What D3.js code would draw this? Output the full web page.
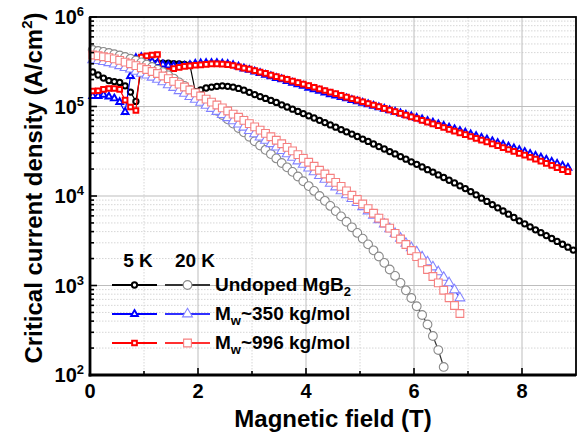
<!DOCTYPE html>
<html>
<head>
<meta http-equiv="Content-type" content="text/html; charset=utf-8">
<title>Critical current density vs magnetic field</title>
<script src="https://d3js.org/d3.v7.min.js"></script>
<style>
body { margin: 0; background: #fff; }
text { font-family: "Liberation Sans", Arial, sans-serif; font-weight: bold; fill: #000; }
.grid-major { stroke: #bdbdbd; stroke-width: 1; }
.grid-minor { stroke: #d6d6d6; stroke-width: 1; stroke-dasharray: 1.5, 1.5; }
</style>
</head>
<body>
<svg id="chart" width="577" height="437"></svg>
<script>
// magnetic field (T), same step for every curve
var fields = [0.05, 0.15, 0.25, 0.35, 0.45, 0.55, 0.65, 0.75, 0.85, 0.95,
  1.05, 1.15, 1.25, 1.35, 1.45, 1.55, 1.65, 1.75, 1.85, 1.95,
  2.05, 2.15, 2.25, 2.35, 2.45, 2.55, 2.65, 2.75, 2.85, 2.95,
  3.05, 3.15, 3.25, 3.35, 3.45, 3.55, 3.65, 3.75, 3.85, 3.95,
  4.05, 4.15, 4.25, 4.35, 4.45, 4.55, 4.65, 4.75, 4.85, 4.95,
  5.05, 5.15, 5.25, 5.35, 5.45, 5.55, 5.65, 5.75, 5.85, 5.95,
  6.05, 6.15, 6.25, 6.35, 6.45, 6.55, 6.65, 6.75, 6.85, 6.95,
  7.05, 7.15, 7.25, 7.35, 7.45, 7.55, 7.65, 7.75, 7.85, 7.95,
  8.05, 8.15, 8.25, 8.35, 8.45, 8.55, 8.65, 8.75, 8.85, 8.95];

// Jc (A/cm2) at 5 K
var undoped5K = [2.43e5, 2.25e5, 2.08e5, 1.95e5, 1.90e5, 1.86e5, 1.70e5, 1.45e5, 1.14e5, 2.69e5,
  2.99e5, 3.02e5, 3.06e5, 3.06e5, 3.06e5, 3.02e5, 2.99e5, 2.95e5, 2.91e5, 1.47e5,
  1.53e5, 1.61e5, 1.65e5, 1.68e5, 1.70e5, 1.68e5, 1.65e5, 1.59e5, 1.52e5, 1.44e5,
  1.36e5, 1.29e5, 1.23e5, 1.17e5, 1.11e5, 1.045e5, 9.87e4, 9.33e4, 8.82e4, 8.33e4,
  7.87e4, 7.44e4, 7.01e4, 6.61e4, 6.23e4, 5.87e4, 5.53e4, 5.21e4, 4.92e4, 4.62e4,
  4.33e4, 4.07e4, 3.81e4, 3.57e4, 3.35e4, 3.14e4, 2.95e4, 2.76e4, 2.58e4, 2.41e4,
  2.26e4, 2.11e4, 1.97e4, 1.85e4, 1.72e4, 1.61e4, 1.50e4, 1.40e4, 1.30e4, 1.21e4,
  1.12e4, 1.03e4, 9450, 8700, 8010, 7380, 6800, 6260, 5750, 5280,
  4890, 4530, 4190, 3890, 3610, 3350, 3110, 2890, 2680, 2490];

var mw350_5K = [1.31e5, 1.31e5, 1.35e5, 1.29e5, 1.23e5, 1.12e5, 8.68e4, 2.19e5, 3.48e5, 3.57e5,
  3.35e5, 3.17e5, 3.06e5, 2.95e5, 2.87e5, 2.84e5, 2.84e5, 2.84e5, 2.91e5, 2.99e5,
  3.04e5, 3.06e5, 3.06e5, 3.05e5, 3.01e5, 2.97e5, 2.90e5, 2.79e5, 2.66e5, 2.56e5,
  2.45e5, 2.36e5, 2.26e5, 2.17e5, 2.08e5, 2.01e5, 1.92e5, 1.84e5, 1.77e5, 1.70e5,
  1.62e5, 1.56e5, 1.50e5, 1.43e5, 1.37e5, 1.32e5, 1.27e5, 1.23e5, 1.18e5, 1.14e5,
  1.10e5, 1.06e5, 1.02e5, 9.79e4, 9.42e4, 9.07e4, 8.73e4, 8.40e4, 8.08e4, 7.77e4,
  7.48e4, 7.18e4, 6.89e4, 6.61e4, 6.34e4, 6.07e4, 5.81e4, 5.57e4, 5.33e4, 5.10e4,
  4.88e4, 4.67e4, 4.47e4, 4.28e4, 4.09e4, 3.90e4, 3.72e4, 3.56e4, 3.40e4, 3.25e4,
  3.10e4, 2.95e4, 2.81e4, 2.68e4, 2.54e4, 2.41e4, 2.29e4, 2.18e4, 2.07e4];

var mw996_5K = [1.49e5, 1.50e5, 1.55e5, 1.59e5, 1.59e5, 1.55e5, 1.18e5, 9.87e4, 9.02e4, 3.57e5,
  3.67e5, 3.76e5, 3.81e5, 2.37e5, 2.49e5, 2.65e5, 2.74e5, 2.81e5, 2.85e5, 2.89e5,
  2.92e5, 2.96e5, 2.99e5, 2.99e5, 2.97e5, 2.94e5, 2.87e5, 2.77e5, 2.69e5, 2.61e5,
  2.52e5, 2.42e5, 2.34e5, 2.24e5, 2.16e5, 2.08e5, 2.01e5, 1.92e5, 1.85e5, 1.78e5,
  1.71e5, 1.64e5, 1.57e5, 1.51e5, 1.45e5, 1.39e5, 1.33e5, 1.27e5, 1.22e5, 1.18e5,
  1.13e5, 1.08e5, 1.04e5, 9.97e4, 9.55e4, 9.14e4, 8.75e4, 8.37e4, 8.01e4, 7.67e4,
  7.34e4, 7.01e4, 6.69e4, 6.39e4, 6.10e4, 5.83e4, 5.56e4, 5.31e4, 5.07e4, 4.84e4,
  4.62e4, 4.41e4, 4.21e4, 4.02e4, 3.83e4, 3.65e4, 3.47e4, 3.31e4, 3.15e4, 3.00e4,
  2.86e4, 2.71e4, 2.58e4, 2.45e4, 2.32e4, 2.20e4, 2.08e4, 1.97e4, 1.87e4];

// Jc (A/cm2) at 20 K
var undoped20K = [4.28e5, 4.17e5, 4.07e5, 3.96e5, 3.84e5, 3.71e5, 3.57e5, 3.42e5, 3.26e5, 3.11e5,
  2.94e5, 2.76e5, 2.58e5, 2.42e5, 2.23e5, 2.05e5, 1.86e5, 1.70e5, 1.53e5, 1.38e5,
  1.24e5, 1.11e5, 9.97e4, 8.95e4, 8.04e4, 7.19e4, 6.44e4, 5.75e4, 5.14e4, 4.59e4,
  4.09e4, 3.67e4, 3.28e4, 2.94e4, 2.63e4, 2.34e4, 2.09e4, 1.86e4, 1.65e4, 1.46e4,
  1.29e4, 1.14e4, 1.00e4, 8830, 7750, 6780, 5920, 5150, 4470, 3870,
  3340, 2880, 2470, 2110, 1790, 1510, 1280, 1070, 883, 725,
  587, 468, 367, 273, 190, 123];

var mw350_20K = [3.31e5, 3.25e5, 3.17e5, 3.08e5, 2.97e5, 2.85e5, 2.72e5, 2.61e5, 2.47e5, 2.34e5,
  2.24e5, 2.12e5, 2.01e5, 1.88e5, 1.74e5, 1.63e5, 1.50e5, 1.40e5, 1.29e5, 1.20e5,
  1.11e5, 1.03e5, 9.50e4, 8.79e4, 8.12e4, 7.49e4, 6.90e4, 6.36e4, 5.86e4, 5.38e4,
  4.95e4, 4.55e4, 4.18e4, 3.83e4, 3.51e4, 3.21e4, 2.95e4, 2.70e4, 2.46e4, 2.25e4,
  2.05e4, 1.86e4, 1.69e4, 1.53e4, 1.38e4, 1.26e4, 1.14e4, 1.03e4, 9350, 8430,
  7570, 6800, 6090, 5430, 4840, 4290, 3800, 3370, 2950, 2640,
  2370, 2080, 1830, 1610, 1420, 1230, 1070, 891, 725];

var mw996_20K = [3.76e5, 3.69e5, 3.60e5, 3.51e5, 3.40e5, 3.27e5, 3.13e5, 3.00e5, 2.86e5, 2.71e5,
  2.59e5, 2.46e5, 2.34e5, 2.19e5, 2.05e5, 1.91e5, 1.78e5, 1.65e5, 1.53e5, 1.42e5,
  1.31e5, 1.21e5, 1.12e5, 1.04e5, 9.65e4, 8.91e4, 8.22e4, 7.59e4, 7.00e4, 6.44e4,
  5.93e4, 5.45e4, 5.00e4, 4.59e4, 4.20e4, 3.84e4, 3.50e4, 3.19e4, 2.90e4, 2.63e4,
  2.38e4, 2.15e4, 1.94e4, 1.76e4, 1.58e4, 1.42e4, 1.28e4, 1.14e4, 1.02e4, 9140,
  8140, 7230, 6420, 5660, 4990, 4380, 3820, 3310, 2870, 2460,
  2100, 1790, 1510, 1260, 1070, 886, 730, 598, 487];

var xTicks = [0, 2, 4, 6, 8];
var xMinorTicks = [1, 3, 5, 7];
var yDecades = [1e2, 1e3, 1e4, 1e5, 1e6];
var yExponents = ["2", "3", "4", "5", "6"];

var svg = d3.select("#chart");
var margin = { top: 17, right: 1, bottom: 62, left: 90 };
var width = svg.attr("width") - margin.left - margin.right;
var height = svg.attr("height") - margin.top - margin.bottom;

var g = svg.append("g")
  .attr("transform", "translate(" + margin.left + "," + margin.top + ")");

var x = d3.scaleLinear().domain([0, 9]).range([0, width]);
var y = d3.scaleLog().domain([1e2, 1e6]).range([height, 0]);

// minor log values 2..9 in each decade
var yMinor = [];
yDecades.slice(0, -1).forEach(function(d) {
  for (var m = 2; m <= 9; m++) yMinor.push(d * m);
});

// grid
g.append("g").selectAll("line").data(xMinorTicks).enter().append("line")
  .attr("class", "grid-minor")
  .attr("x1", x).attr("x2", x).attr("y1", 0).attr("y2", height);
g.append("g").selectAll("line").data(yMinor).enter().append("line")
  .attr("class", "grid-minor")
  .attr("x1", 0).attr("x2", width).attr("y1", y).attr("y2", y);
g.append("g").selectAll("line").data(xTicks.slice(1)).enter().append("line")
  .attr("class", "grid-major")
  .attr("x1", x).attr("x2", x).attr("y1", 0).attr("y2", height);
g.append("g").selectAll("line").data(yDecades.slice(1, -1)).enter().append("line")
  .attr("class", "grid-major")
  .attr("x1", 0).attr("x2", width).attr("y1", y).attr("y2", y);

// curves
var series = [
  { values: undoped5K, line: "#000", marker: "#000", symbol: d3.symbolCircle, size: 22, sw: 2 },
  { values: mw350_5K, line: "#0000ff", marker: "#0000ff", symbol: d3.symbolTriangle, size: 20, sw: 1.9 },
  { values: mw996_5K, line: "#ff0000", marker: "#ff0000", symbol: d3.symbolSquare, size: 22, sw: 2 },
  { values: undoped20K, line: "#333", marker: "#8a8a8a", symbol: d3.symbolCircle, size: 60, sw: 1.1 },
  { values: mw350_20K, line: "#3030ff", marker: "#8282ff", symbol: d3.symbolTriangle, size: 42, sw: 1.1 },
  { values: mw996_20K, line: "#ff3030", marker: "#f58080", symbol: d3.symbolSquare, size: 60, sw: 1.1 }
];

var line = d3.line()
  .x(function(d, i) { return x(fields[i]); })
  .y(function(d) { return y(d); });

series.forEach(function(s) {
  var sg = g.append("g");
  sg.append("path")
    .datum(s.values)
    .attr("fill", "none")
    .attr("stroke", s.line)
    .attr("stroke-width", 1.2)
    .attr("d", line);
  sg.selectAll(".pt")
    .data(s.values)
    .enter().append("path")
      .attr("class", "pt")
      .attr("transform", function(d, i) { return "translate(" + x(fields[i]) + "," + y(d) + ")"; })
      .attr("d", d3.symbol().type(s.symbol).size(s.size))
      .attr("fill", "#fff")
      .attr("stroke", s.marker)
      .attr("stroke-width", s.sw);
});

// frame and axes
g.append("rect")
  .attr("width", width).attr("height", height)
  .attr("fill", "none").attr("stroke", "#000").attr("stroke-width", 1.8);

var ticks = g.append("g").attr("stroke", "#000").attr("stroke-width", 1.6);
ticks.selectAll(".xt").data(xTicks.concat(xMinorTicks)).enter().append("line")
  .attr("x1", x).attr("x2", x)
  .attr("y1", height)
  .attr("y2", function(d) { return height - (d % 2 == 0 ? 7 : 4); });
ticks.selectAll(".yt").data(yDecades.concat(yMinor)).enter().append("line")
  .attr("y1", y).attr("y2", y)
  .attr("x1", 0)
  .attr("x2", function(d) { return yDecades.indexOf(d) >= 0 ? 7 : 4; });

g.append("line").attr("x1", 0).attr("x2", 0).attr("y1", 0).attr("y2", height + 1.4)
  .attr("stroke", "#000").attr("stroke-width", 2.8);
g.append("line").attr("x1", -1.4).attr("x2", width).attr("y1", height).attr("y2", height)
  .attr("stroke", "#000").attr("stroke-width", 2.8);

g.append("g").selectAll("text").data(xTicks).enter().append("text")
  .attr("x", x)
  .attr("y", height + 23)
  .attr("text-anchor", "middle")
  .attr("font-size", "20px")
  .text(function(d) { return d; });

var yLab = g.append("g").selectAll("text").data(yDecades).enter().append("text")
  .attr("x", -6)
  .attr("y", function(d) { return y(d) + 7; })
  .attr("text-anchor", "end")
  .attr("font-size", "20px");
yLab.append("tspan").text("10");
yLab.append("tspan")
  .attr("dy", -8)
  .attr("font-size", "13px")
  .text(function(d, i) { return yExponents[i]; });

// axis titles
svg.append("text")
  .attr("x", margin.left + width / 2).attr("y", 427)
  .attr("text-anchor", "middle")
  .attr("font-size", "24px")
  .text("Magnetic field (T)");

var yTitle = svg.append("text")
  .attr("transform", "translate(42,188) rotate(-90)")
  .attr("text-anchor", "middle")
  .attr("font-size", "24px");
yTitle.append("tspan").text("Critical current density (A/cm");
yTitle.append("tspan").attr("dy", -10).attr("font-size", "15px").text("2");
yTitle.append("tspan").attr("dy", 10).text(")");

// legend
var legend = svg.append("g");
legend.append("text").attr("x", 138).attr("y", 267).attr("text-anchor", "middle")
  .attr("font-size", "19px").text("5 K");
legend.append("text").attr("x", 195).attr("y", 267).attr("text-anchor", "middle")
  .attr("font-size", "19px").text("20 K");

var legendRows = [
  { s5: series[0], s20: series[3], name: "Undoped MgB", sub: "2", rest: "" },
  { s5: series[1], s20: series[4], name: "M", sub: "w", rest: "~350 kg/mol" },
  { s5: series[2], s20: series[5], name: "M", sub: "w", rest: "~996 kg/mol" }
];
var rowY = [285, 314, 343];

legendRows.forEach(function(r, i) {
  var ly = rowY[i];
  [[r.s5, 112, 157], [r.s20, 165, 210]].forEach(function(p) {
    var s = p[0];
    legend.append("line")
      .attr("x1", p[1]).attr("x2", p[2]).attr("y1", ly).attr("y2", ly)
      .attr("stroke", s.line).attr("stroke-width", 2);
    legend.append("path")
      .attr("transform", "translate(" + ((p[1] + p[2]) / 2) + "," + ly + ")")
      .attr("d", d3.symbol().type(s.symbol).size(s.size))
      .attr("fill", "#fff")
      .attr("stroke", s.marker)
      .attr("stroke-width", s.sw);
  });
  var t = legend.append("text").attr("x", 215).attr("y", ly + 6).attr("font-size", "19px");
  t.append("tspan").text(r.name);
  t.append("tspan").attr("dy", 5).attr("font-size", "13px").text(r.sub);
  if (r.rest) t.append("tspan").attr("dy", -5).text(r.rest);
});
</script>
</body>
</html>
